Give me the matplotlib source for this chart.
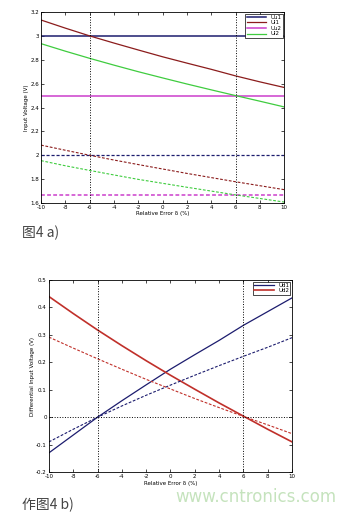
import matplotlib
matplotlib.use('Agg')
import matplotlib.pyplot as plt

# relative error axis (%)
delta = [-10, -8, -6, -4, -2, 0, 2, 4, 6, 8, 10]

# figure a) input voltages, solid set
uu1_a = [3.0] * 11
ui1_a = [3.133, 3.065, 3.0, 2.94, 2.882, 2.825, 2.772, 2.72, 2.665, 2.615, 2.568]
uu2_a = [2.5] * 11
ui2_a = [2.935, 2.872, 2.812, 2.755, 2.70, 2.648, 2.597, 2.548, 2.50, 2.453, 2.405]
# dashed set
uu1_b = [2.0] * 11
ui1_b = [2.085, 2.042, 2.0, 1.96, 1.922, 1.885, 1.848, 1.813, 1.778, 1.745, 1.712]
uu2_b = [1.667] * 11
ui2_b = [1.955, 1.912, 1.873, 1.835, 1.798, 1.765, 1.732, 1.70, 1.668, 1.638, 1.608]

# figure b) differential input voltages
ud1_a = [-0.13, -0.065, 0.0, 0.06, 0.118, 0.175, 0.228, 0.28, 0.335, 0.385, 0.435]
ud2_a = [0.44, 0.378, 0.318, 0.261, 0.206, 0.153, 0.102, 0.052, 0.004, -0.044, -0.09]
ud1_b = [-0.09, -0.044, 0.0, 0.041, 0.08, 0.117, 0.153, 0.188, 0.222, 0.255, 0.29]
ud2_b = [0.292, 0.252, 0.213, 0.175, 0.138, 0.103, 0.068, 0.035, 0.003, -0.028, -0.06]

xticks = [-10, -8, -6, -4, -2, 0, 2, 4, 6, 8, 10]
yticks_a = [1.6, 1.8, 2.0, 2.2, 2.4, 2.6, 2.8, 3.0, 3.2]
yticks_b = [-0.2, -0.1, 0, 0.1, 0.2, 0.3, 0.4, 0.5]

NAVY = '#1c1c6e'
DRED = '#8b1c1c'
MAG = '#cc3fcc'
GRN = '#3fcc3f'
RED = '#c0302a'
FS = 4


def fmt(v):
    return ('%g' % round(v, 2))


def style_axes(ax, yticks):
    ax.set_xlim(-10, 10)
    ax.set_xticks(xticks)
    ax.set_xticklabels([fmt(t) for t in xticks])
    ax.set_yticks(yticks)
    ax.set_yticklabels([fmt(t) for t in yticks])
    ax.set_ylim(yticks[0], yticks[-1])
    ax.tick_params(direction='in', top=True, right=True, labelsize=FS,
                   length=2, width=0.5, pad=1.5)
    for s in ax.spines.values():
        s.set_linewidth(0.6)
    for v in (-6, 6):
        ax.axvline(v, color='k', ls=':', lw=0.7)


fig = plt.figure(figsize=(3.57, 5.12), dpi=100)

ax1 = fig.add_axes([0.115, 0.6035, 0.681, 0.373])
ax1.plot(delta, uu1_a, color=NAVY, lw=1.1, label='Uu1')
ax1.plot(delta, ui1_a, color=DRED, lw=0.9, label='Ui1')
ax1.plot(delta, uu2_a, color=MAG, lw=1.1, label='Uu2')
ax1.plot(delta, ui2_a, color=GRN, lw=0.9, label='Ui2')
ax1.plot(delta, uu1_b, color=NAVY, lw=0.9, ls='--', dashes=(2.5, 1.5))
ax1.plot(delta, ui1_b, color=DRED, lw=0.8, ls='--', dashes=(2.5, 1.5))
ax1.plot(delta, uu2_b, color=MAG, lw=1.1, ls='--', dashes=(2.5, 1.5))
ax1.plot(delta, ui2_b, color=GRN, lw=0.8, ls='--', dashes=(2.5, 1.5))
style_axes(ax1, yticks_a)
ax1.set_xlabel('Relative Error δ (%)', fontsize=FS, labelpad=1)
ax1.set_ylabel('Input Voltage (V)', fontsize=FS, labelpad=1)
leg = ax1.legend(loc='upper right', fontsize=FS, handlelength=3.5,
                 borderpad=0.2, labelspacing=0.1, fancybox=False,
                 framealpha=1, edgecolor='k', borderaxespad=0.3)
leg.get_frame().set_linewidth(0.5)

ax2 = fig.add_axes([0.137, 0.078, 0.681, 0.375])
ax2.plot(delta, ud1_a, color=NAVY, lw=0.9, label='Ud1')
ax2.plot(delta, ud2_a, color=RED, lw=1.2, label='Ud2')
ax2.plot(delta, ud1_b, color=NAVY, lw=0.8, ls='--', dashes=(2.5, 1.5))
ax2.plot(delta, ud2_b, color=RED, lw=0.8, ls='--', dashes=(2.5, 1.5))
ax2.axhline(0, color='k', ls=':', lw=0.7)
style_axes(ax2, yticks_b)
ax2.set_xlabel('Relative Error δ (%)', fontsize=FS, labelpad=1)
ax2.set_ylabel('Differential Input Voltage (V)', fontsize=FS, labelpad=1)
leg = ax2.legend(loc='upper right', fontsize=FS, handlelength=3.5,
                 borderpad=0.2, labelspacing=0.1, fancybox=False,
                 framealpha=1, edgecolor='k', borderaxespad=0.3)
leg.get_frame().set_linewidth(0.5)

cap_font = ['Noto Sans CJK SC', 'DejaVu Sans']
fig.text(22 / 357, 1 - 233 / 512, '图4 a)', fontsize=10, style='italic',
         family=cap_font, color='#444444', va='center', ha='left')
fig.text(22 / 357, 1 - 505 / 512, '作图4 b)', fontsize=10, style='italic',
         family=cap_font, color='#444444', va='center', ha='left')
fig.text(175 / 357, 1 - 497 / 512, 'www.cntronics.com', fontsize=12,
         color='#c5e3bd', va='center', ha='left', family='DejaVu Sans')

fig.savefig('out.png', dpi=100)
